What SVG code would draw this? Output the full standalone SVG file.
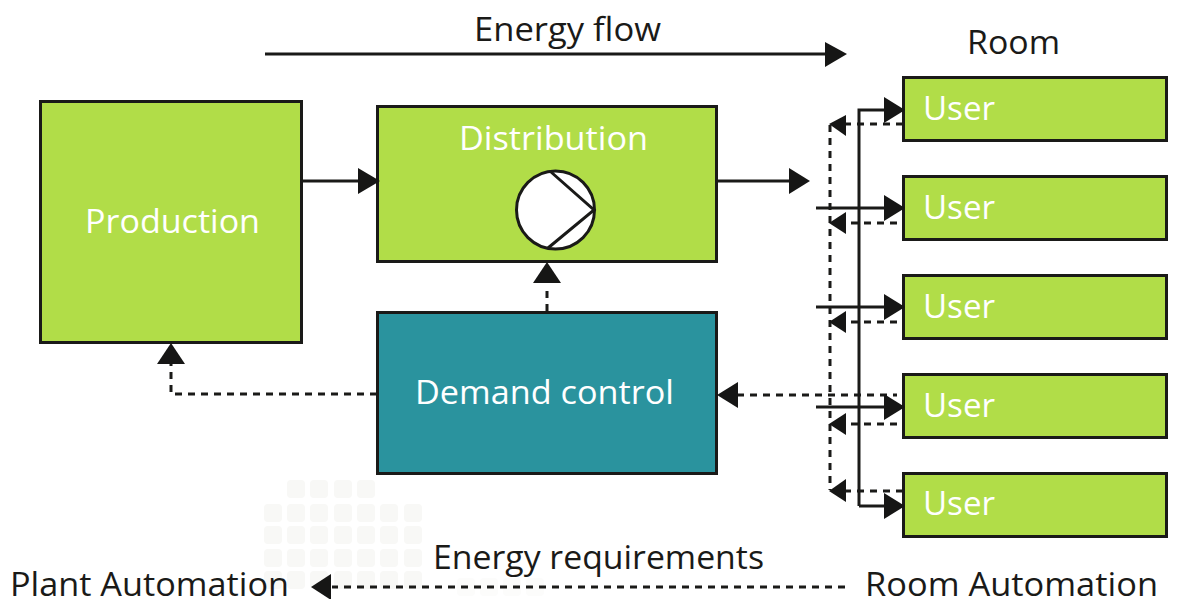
<svg xmlns="http://www.w3.org/2000/svg" width="1178" height="599" viewBox="0 0 1178 599">
<style>
text{font-family:"Open Sans","Noto Sans","Liberation Sans",sans-serif;font-size:32px}
.w{fill:#fff}.k{fill:#1a1a18}
.g{fill:#b1dd48;stroke:#1a1a18;stroke-width:3}
.t{fill:#2a939e;stroke:#1a1a18;stroke-width:3}
.s{fill:none;stroke:#1a1a18;stroke-width:3}
.d{fill:none;stroke:#1a1a18;stroke-width:3;stroke-dasharray:7 6}
.a{fill:#161615}
.m{fill:#f8f8f6}
.n{fill:#fcfcfb}
</style>
<defs><rect id="q" width="18" height="18" rx="4" class="m"/><rect id="r" width="18" height="18" rx="4" class="n"/></defs>
<g id="watermark">
<use href="#q" x="287" y="480"/><use href="#q" x="310" y="480"/><use href="#q" x="334" y="480"/><use href="#q" x="357" y="480"/>
<use href="#q" x="264" y="504"/><use href="#q" x="287" y="504"/><use href="#q" x="310" y="504"/><use href="#q" x="334" y="504"/><use href="#q" x="357" y="504"/><use href="#q" x="380" y="504"/><use href="#q" x="404" y="504"/>
<use href="#q" x="264" y="526"/><use href="#q" x="287" y="526"/><use href="#q" x="310" y="526"/><use href="#q" x="334" y="526"/><use href="#q" x="357" y="526"/><use href="#q" x="380" y="526"/><use href="#q" x="404" y="526"/>
<use href="#q" x="264" y="549"/><use href="#q" x="287" y="549"/><use href="#q" x="310" y="549"/><use href="#q" x="334" y="549"/><use href="#q" x="357" y="549"/><use href="#q" x="380" y="549"/><use href="#q" x="404" y="549"/>
<use href="#q" x="264" y="571"/><use href="#q" x="287" y="571"/><use href="#q" x="310" y="571"/><use href="#q" x="334" y="571"/><use href="#q" x="357" y="571"/><use href="#q" x="380" y="571"/><use href="#q" x="404" y="571"/>
<use href="#r" x="457" y="578"/><use href="#r" x="480" y="578"/><use href="#r" x="503" y="578"/><use href="#r" x="526" y="578"/>
</g>
<g id="production"><rect class="g" x="40.500" y="101.500" width="261" height="241"/><text class="w" x="85" y="233" textLength="175" lengthAdjust="spacingAndGlyphs">Production</text></g>
<g id="distribution"><rect class="g" x="377.500" y="106.500" width="339" height="155"/><text class="w" x="459" y="150" textLength="189" lengthAdjust="spacingAndGlyphs">Distribution</text>
<circle cx="555.500" cy="210" r="39" fill="#fff" stroke="#1a1a18" stroke-width="3"/><path class="s" d="M551 172L594 210L548 248"/></g>
<g id="demand-control"><rect class="t" x="377.500" y="312.500" width="339" height="161"/><text class="w" x="415" y="404" textLength="259" lengthAdjust="spacingAndGlyphs">Demand control</text></g>
<g id="user-1"><rect class="g" x="903.500" y="77.500" width="263" height="63"/><text class="w" x="923" y="120" textLength="72" lengthAdjust="spacingAndGlyphs">User</text></g>
<g id="user-2"><rect class="g" x="903.500" y="176.500" width="263" height="63"/><text class="w" x="923" y="219" textLength="72" lengthAdjust="spacingAndGlyphs">User</text></g>
<g id="user-3"><rect class="g" x="903.500" y="275.500" width="263" height="63"/><text class="w" x="923" y="318" textLength="72" lengthAdjust="spacingAndGlyphs">User</text></g>
<g id="user-4"><rect class="g" x="903.500" y="374.500" width="263" height="63"/><text class="w" x="923" y="417" textLength="72" lengthAdjust="spacingAndGlyphs">User</text></g>
<g id="user-5"><rect class="g" x="903.500" y="473.500" width="263" height="63"/><text class="w" x="923" y="515" textLength="72" lengthAdjust="spacingAndGlyphs">User</text></g>
<g id="connectors">
<path class="s" d="M265 54H826"/><path class="a" d="M825 42L847 54L825 67Z"/>
<path class="s" d="M302 181H360"/><path class="a" d="M358 168L380 181L358 194Z"/>
<path class="s" d="M717 181H790"/><path class="a" d="M789 168L810 181L789 194Z"/>
<path class="d" d="M547 311V285"/><path class="a" d="M533 283L547 262L561 283Z"/>
<path class="d" d="M377 394H171V364"/><path class="a" d="M157 364L171 343L185 364Z"/>
<path class="d" d="M737 395H897"/><path class="a" d="M738 382L717 395L738 408Z"/>
<path class="s" d="M859 506V110H885"/><path class="s" d="M859 506H885"/><path class="a" d="M884 97L905 110L884 123Z"/><path class="a" d="M884 493L905 506L884 519Z"/>
<path class="s" d="M816 208H885"/><path class="a" d="M884 195L905 208L884 221Z"/>
<path class="s" d="M816 307H885"/><path class="a" d="M884 294L905 307L884 320Z"/>
<path class="s" d="M816 407H885"/><path class="a" d="M884 394L905 407L884 420Z"/>
<path class="d" d="M830 125V490"/>
<path class="d" d="M903 124H846"/><path class="a" d="M846 115L829 124L846 136Z"/>
<path class="d" d="M897 223H846"/><path class="a" d="M846 212L829 223L846 234Z"/>
<path class="d" d="M897 322H846"/><path class="a" d="M846 311L829 322L846 333Z"/>
<path class="d" d="M897 424H846"/><path class="a" d="M846 413L829 424L846 435Z"/>
<path class="d" d="M903 491H846"/><path class="a" d="M846 479L829 491L846 502Z"/>
<path class="d" d="M845 587H332"/><path class="a" d="M331 574L311 587L331 600Z"/>
</g>
<g id="labels">
<text class="k" x="474" y="41" textLength="187" lengthAdjust="spacingAndGlyphs">Energy flow</text>
<text class="k" x="967" y="54" textLength="93" lengthAdjust="spacingAndGlyphs">Room</text>
<text class="k" x="433" y="569" textLength="331" lengthAdjust="spacingAndGlyphs">Energy requirements</text>
<text class="k" x="10" y="596" textLength="279" lengthAdjust="spacingAndGlyphs">Plant Automation</text>
<text class="k" x="865" y="596" textLength="293" lengthAdjust="spacingAndGlyphs">Room Automation</text>
</g>
</svg>
